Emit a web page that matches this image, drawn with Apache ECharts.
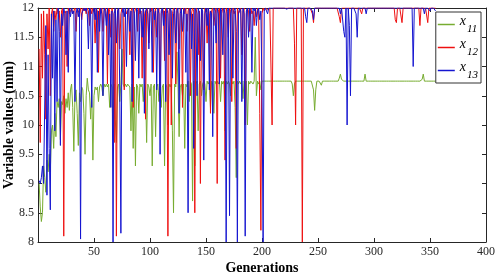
<!DOCTYPE html>
<html><head><meta charset="utf-8">
<script src="https://cdn.jsdelivr.net/npm/echarts@6/dist/echarts.min.js"></script>
<style>html,body{margin:0;padding:0;background:#fff}#c{width:500px;height:278px}</style>
</head><body><div id="c"></div>
<script>
var seriesNames = ['x11', 'x12', 'x13'];
var xTicks = [0, 50, 100, 150, 200, 250, 300, 350, 400];
var yTicks = [8, 8.5, 9, 9.5, 10, 10.5, 11, 11.5, 12];

var greenX11 = [
9.0,8.6,8.35,8.5,9.3,9.1,8.85,9.4,9.2,9.5,
9.2,9.9,10.0,9.6,10.2,9.8,10.4,10.3,10.45,9.75,
10.4,10.35,10.5,10.2,10.45,10.3,10.55,10.25,10.6,10.7,
10.3,9.55,10.5,10.6,10.2,9.65,10.55,10.4,10.65,10.6,
10.2,9.5,10.5,10.8,10.6,10.55,10.1,10.6,9.4,10.5,
10.65,10.6,10.65,10.4,10.65,10.7,10.65,10.5,10.7,10.65,
10.7,10.65,10.7,10.3,10.7,10.65,9.8,10.7,10.1,9.7,
10.65,10.7,10.4,10.7,11.3,10.7,10.65,10.7,10.65,10.7,
10.7,10.65,9.9,10.7,9.6,10.65,9.3,10.7,10.65,10.2,
10.7,10.65,10.7,10.4,10.7,10.65,9.7,10.7,10.65,10.5,
10.7,9.3,10.65,10.7,9.8,10.65,10.7,10.4,10.7,10.3,
10.65,10.7,9.3,10.7,10.65,10.0,10.7,10.65,10.7,9.9,
8.5,10.7,10.65,11.25,10.7,9.8,10.65,10.7,10.5,10.7,
9.6,10.7,10.65,10.75,10.4,10.75,10.7,8.7,10.75,9.3,
10.7,10.75,9.9,10.7,10.75,10.5,10.7,10.75,10.7,10.4,
10.75,10.7,10.75,10.3,10.75,10.7,10.2,10.75,10.7,10.75,
10.7,10.75,10.4,10.75,10.7,10.75,9.9,10.75,10.7,10.75,
10.7,10.5,10.75,10.7,10.75,10.3,9.1,10.75,10.7,10.75,
10.7,10.75,10.45,10.75,10.7,10.75,10.0,10.75,10.7,10.75,
10.75,10.7,10.75,11.5,10.5,10.75,10.7,10.75,10.6,10.75,
10.75,10.75,10.75,10.75,10.75,10.75,10.75,10.75,10.75,10.75,
10.75,10.75,10.75,10.75,10.75,10.75,10.75,10.75,10.75,10.75,
10.75,10.75,10.75,10.75,10.75,10.75,10.7,10.5,10.7,10.75,
10.75,10.75,10.75,10.75,10.75,10.75,10.75,10.75,10.75,10.75,
10.75,10.75,10.75,10.75,10.75,10.6,10.25,10.6,10.75,10.75,
10.75,10.72,10.68,10.75,10.75,10.75,10.75,10.75,10.75,10.75,
10.75,10.75,10.75,10.75,10.75,10.75,10.75,10.75,10.8,10.87,
10.78,10.75,10.75,10.75,10.75,10.75,10.75,10.75,10.75,10.75,
10.75,10.75,10.75,10.75,10.75,10.75,10.75,10.75,10.75,10.75,
10.75,10.87,10.75,10.75,10.75,10.75,10.75,10.75,10.75,10.75,
10.75,10.75,10.75,10.75,10.75,10.75,10.75,10.75,10.75,10.75,
10.75,10.75,10.75,10.75,10.75,10.75,10.75,10.75,10.75,10.75,
10.75,10.75,10.75,10.75,10.75,10.75,10.75,10.75,10.75,10.75,
10.75,10.75,10.75,10.75,10.75,10.75,10.75,10.75,10.75,10.75,
10.75,10.75,10.78,10.87,10.75,10.75,10.75,10.72,10.75,10.75,
10.75,10.75,10.75,10.75,10.75
];

var redX12 = [
11.3,9.7,11.9,10.8,11.95,11.2,10.1,11.9,11.3,12.0,
10.5,11.9,12.0,11.6,11.95,11.8,12.0,11.9,11.95,11.5,
11.95,12.0,8.1,11.9,11.95,11.0,12.0,11.9,11.95,12.0,
11.9,11.95,12.0,11.6,12.0,11.95,11.9,12.0,11.8,12.0,
11.95,12.0,11.9,12.0,11.95,11.7,12.0,11.9,12.0,11.95,
11.4,12.0,11.95,10.9,12.0,11.9,12.0,11.6,11.95,12.0,
11.9,10.7,12.0,11.95,11.5,12.0,11.9,9.7,12.0,8.1,
11.95,12.0,11.3,11.9,12.0,11.95,10.6,12.0,11.9,11.95,
12.0,11.2,11.95,12.0,10.3,11.9,12.0,11.95,11.6,12.0,
11.9,11.95,10.8,12.0,11.9,10.1,12.0,11.95,11.4,12.0,
11.95,12.0,10.9,11.9,12.0,11.5,11.95,12.0,10.4,11.9,
12.0,11.95,11.1,12.0,11.9,8.1,11.95,12.0,10.0,11.9,
12.0,11.95,10.7,12.0,11.9,11.3,12.0,11.95,10.3,12.0,
11.9,12.0,11.6,11.95,12.0,10.5,11.9,12.0,11.95,8.5,
12.0,11.9,11.2,11.95,9.0,12.0,11.9,10.6,12.0,11.95,
11.4,12.0,11.9,10.2,11.95,12.0,11.7,11.9,12.0,9.0,
11.95,12.0,10.8,11.9,12.0,11.95,9.4,12.0,11.9,11.5,
12.0,11.95,10.4,12.0,11.9,11.95,9.6,12.0,11.9,11.95,
12.0,11.2,11.95,12.0,10.0,11.9,12.0,11.95,11.6,12.0,
11.9,11.95,11.7,12.0,11.85,12.0,11.95,10.2,8.2,11.9,
12.0,11.95,12.0,12.0,11.97,12.0,12.0,12.0,10.0,12.0,
12,12,12,12,12,12,12,12,12,12,
12,12,12,12,12,12,12,12,11.4,10.0,
12,12,12,12,12,8.0,12,12,12,12,
12,12,12,12,11.9,11.75,12,12,12,12,
12,12,12,12,12,12,12,12,12,12,
12,12,12,12,12,12,12,12,11.85,11.75,
12,12,12,12,12,12,12,12,12,12,
12,12,12,12,12,12,12,12,11.9,12,
12,12,12,12,12,12,12,12,12,12,
12,12,12,12,12,12,12,12,12,12,
12,12,12,12,12,12,12,12,11.8,11.75,
12,12,12,12,11.75,12,12,12,12,12,
12,12,12,12,12,12,12,12,12,12,
11.7,12,12,12,12,12,12,11.75,12,12,
12,12,12,12,12
];

var blueX13 = [
9.05,9.0,9.1,9.3,9.0,9.0,11.7,8.8,11.2,9.6,
8.55,11.9,10.8,11.95,9.9,11.8,10.4,12.0,11.6,9.65,
11.9,11.7,12.0,11.9,11.2,11.95,10.9,12.0,11.85,12.0,
11.9,11.95,10.4,11.9,12.0,11.85,12.0,8.05,11.9,11.95,
12.0,11.95,12.0,11.9,11.3,12.0,11.95,10.3,11.9,12.0,
11.8,12.0,10.9,11.95,11.6,12.0,11.9,10.5,12.0,11.95,
11.7,12.0,11.2,11.9,10.3,11.95,8.0,11.9,12.0,11.4,
11.95,12.0,10.6,8.15,11.9,12.0,11.85,12.0,11.0,11.95,
12.0,11.6,11.95,10.4,12.0,11.9,11.1,12.0,11.95,10.8,
12.0,11.9,11.5,12.0,10.2,11.95,12.0,11.9,11.3,12.0,
11.95,10.9,12.0,11.8,11.95,10.6,12.0,11.9,9.5,11.95,
12.0,11.7,11.95,10.4,12.0,11.9,11.2,12.0,11.95,10.8,
11.9,12.0,11.4,11.95,12.0,10.2,11.9,12.0,11.6,11.95,
12.0,10.9,11.9,8.5,11.95,12.0,11.3,11.9,9.6,12.0,
11.95,10.5,12.0,11.9,11.1,12.0,11.95,9.4,11.9,12.0,
11.7,12.0,10.6,11.95,11.9,9.8,12.0,11.95,11.4,12.0,
11.9,10.7,12.0,11.95,11.2,12.0,11.9,8.0,11.95,12.0,
8.45,11.9,12.0,10.8,11.95,12.0,11.6,8.0,11.9,12.0,
11.95,10.4,12.0,11.9,8.1,11.95,12.0,11.5,12.0,11.9,
10.9,12.0,11.95,12.0,11.7,11.95,12.0,11.8,11.95,10.6,
8.0,11.95,12.0,12.0,11.9,12.0,12.0,12.0,11.98,12.0,
12,12,12,12,11.98,12,12,12,12,12,
12,11.98,12,12,12,12,12,12,12,12,
12,12,12,12,12,12,12,12,11.85,11.75,
12,12,12,12,11.95,11.8,12,12,12,12,
12,12,12,12,12,12,12,12,12,12,
12,12,12,12,12,12,12,12,12,11.9,
12,12,11.6,11.5,12,10.0,12,11.7,10.5,12,
12,12,12,11.9,11.5,12,12,12,12,12,
12,12,11.9,12,12,12,12,12,12,12,
12,12,12,12,12,12,12,12,12,12,
12,12,12,12,12,12,12,12,12,12,
12,12,12,12,12,12,12,12,12,12,
12,12,12,12,11.0,12,12,12,12,12,
12,12,12,12,11.9,12,12,12,12,11.95,
12,12,12,12,11.95
];

function toPairs(arr) { return arr.map(function (v, i) { return [i + 1, v]; }); }

var serif = 'Liberation Serif';
var axisCol = '#262626';
var chart = echarts.init(document.getElementById('c'), null, { renderer: 'canvas' });
var subs = { x11: '11', x12: '12', x13: '13' };

var tickCommon = { show: true, inside: true, length: 4, lineStyle: { color: axisCol, width: 1 } };

chart.setOption({
  animation: false,
  backgroundColor: '#fff',
  grid: { left: 38, right: 14, top: 8, bottom: 36, containLabel: false, outerBoundsMode: 'none' },
  xAxis: [{
    type: 'value', min: xTicks[0], max: xTicks[xTicks.length - 1], interval: 50,
    name: 'Generations', nameLocation: 'middle', nameGap: 19, nameMoveOverlap: false,
    nameTextStyle: { fontFamily: serif, fontWeight: 'bold', fontSize: 14, color: '#000' },
    axisLine: { show: true, onZero: false, lineStyle: { color: axisCol, width: 1 } },
    axisTick: tickCommon,
    axisLabel: { showMinLabel: false, fontFamily: serif, fontSize: 12, color: axisCol, margin: 4 },
    splitLine: { show: false }
  }, {
    type: 'value', position: 'top', min: xTicks[0], max: xTicks[xTicks.length - 1], interval: 50,
    axisLine: { show: true, onZero: false, lineStyle: { color: axisCol, width: 1 } },
    axisTick: tickCommon, axisLabel: { show: false }, splitLine: { show: false }
  }],
  yAxis: [{
    type: 'value', min: yTicks[0], max: yTicks[yTicks.length - 1], interval: 0.5,
    name: 'Variable values (mm)', nameLocation: 'middle', nameGap: 22, nameRotate: 90, nameMoveOverlap: false,
    nameTextStyle: { fontFamily: serif, fontWeight: 'bold', fontSize: 14, color: '#000' },
    axisLine: { show: true, onZero: false, lineStyle: { color: axisCol, width: 1 } },
    axisTick: tickCommon,
    axisLabel: { fontFamily: serif, fontSize: 12, color: axisCol, margin: 4 },
    splitLine: { show: false }
  }, {
    type: 'value', position: 'right', min: yTicks[0], max: yTicks[yTicks.length - 1], interval: 0.5,
    axisLine: { show: true, onZero: false, lineStyle: { color: axisCol, width: 1 } },
    axisTick: tickCommon, axisLabel: { show: false }, splitLine: { show: false }
  }],
  legend: {
    orient: 'vertical', right: 19, top: 12,
    backgroundColor: '#fff', borderColor: '#333', borderWidth: 1,
    padding: [2, 3, 2, 2], itemGap: 2, itemWidth: 17, itemHeight: 1.5,
    icon: 'rect',
    data: seriesNames,
    formatter: function (n) { return '{x|x}{s|' + subs[n] + '}'; },
    textStyle: {
      rich: {
        x: { fontFamily: serif, fontStyle: 'italic', fontSize: 14, color: '#000', lineHeight: 21, verticalAlign: 'top' },
        s: { fontFamily: serif, fontStyle: 'italic', fontSize: 11, color: '#000', lineHeight: 21, verticalAlign: 'bottom', padding: [9, 0, 0, 1] }
      }
    }
  },
  series: [
    { name: seriesNames[0], type: 'line', data: toPairs(greenX11), symbol: 'none', lineStyle: { color: '#77AC30', width: 1 }, itemStyle: { color: '#77AC30' }, z: 2 },
    { name: seriesNames[1], type: 'line', data: toPairs(redX12), symbol: 'none', lineStyle: { color: '#EE1010', width: 1 }, itemStyle: { color: '#EE1010' }, z: 3 },
    { name: seriesNames[2], type: 'line', data: toPairs(blueX13), symbol: 'none', lineStyle: { color: '#1515D0', width: 1 }, itemStyle: { color: '#1515D0' }, z: 4 }
  ]
});
</script></body></html>
